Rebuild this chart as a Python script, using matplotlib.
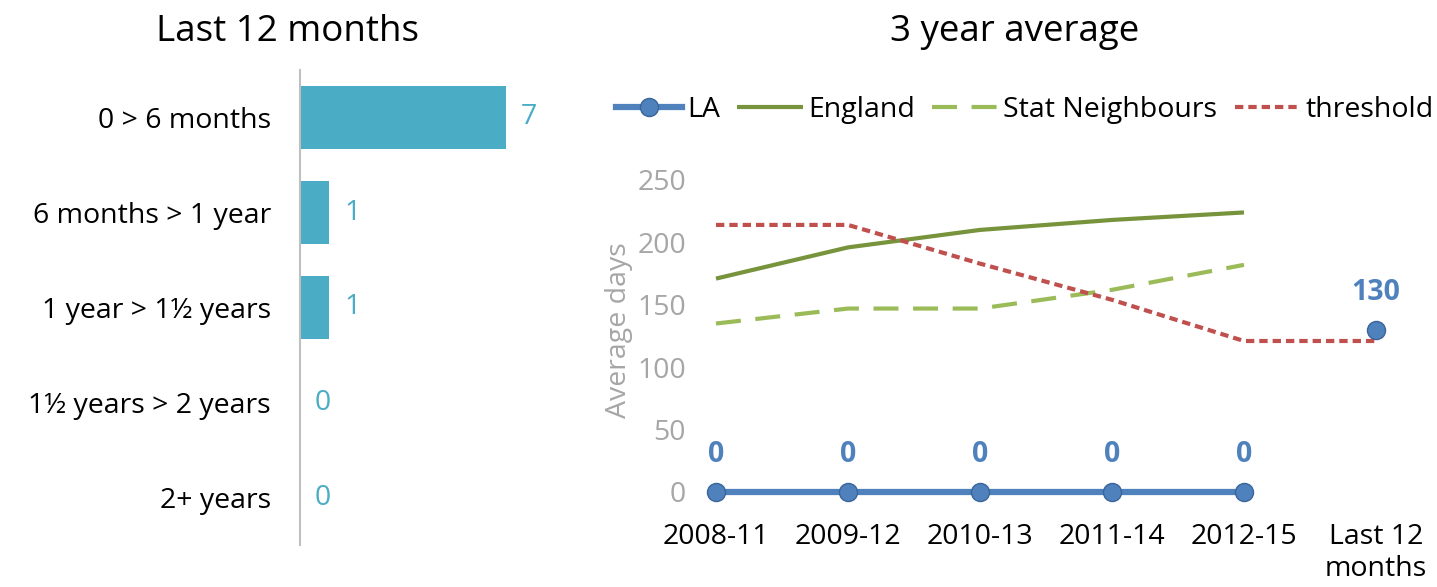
import numpy as np
import matplotlib.pyplot as plt

plt.rcParams['font.family'] = ['Open Sans', 'DejaVu Sans']

# left chart data
bands = ["0 > 6 months", "6 months > 1 year", "1 year > 1½ years", "1½ years > 2 years", "2+ years"]
counts = [7, 1, 1, 0, 0]

# right chart data
periods = ["2008-11", "2009-12", "2010-13", "2011-14", "2012-15", "Last 12\nmonths"]
la = [0, 0, 0, 0, 0, np.nan]
la_last = 130
england = [171, 196, 210, 218, 224, np.nan]
stat_neighbours = [135, 147, 147, 162, 182, np.nan]
threshold = [214, 214, 183, 154, 121, 121]

bar_col = "#4BACC6"
la_col = "#4F81BD"
eng_col = "#77933C"
sn_col = "#9BBB59"
thr_col = "#C0504D"
grey = "#A6A6A6"
fs = 20.5

fig = plt.figure(figsize=(14.37, 5.87), dpi=100)

# ---- left: horizontal bars
ax1 = fig.add_axes([300/1437, 1-545/587, 235/1437, 475/587])
y = np.arange(len(bands))
ax1.barh(y, counts, height=0.66, color=bar_col)
for yi, c in zip(y, counts):
    ax1.text(c + 0.5, yi, str(c), va="center", ha="left", color=bar_col, fontsize=fs)
ax1.set_ylim(4.5, -0.5)
ax1.set_xlim(0, 8)
ax1.set_yticks(y)
ax1.set_yticklabels(bands, fontsize=fs)
ax1.tick_params(axis="y", length=0, pad=21)
ax1.set_xticks([])
for s in ["top", "right", "bottom"]:
    ax1.spines[s].set_visible(False)
ax1.spines["left"].set_color("#BFBFBF")
ax1.spines["left"].set_linewidth(1.5)
fig.text(288/1437, 1-32/587, "Last 12 months", ha="center", va="center", fontsize=26.5)

# ---- right: lines
ax2 = fig.add_axes([650/1437, 1-492/587, 792/1437, 312/587])
x = np.arange(len(periods))
ax2.plot(x, england, color=eng_col, lw=3, label="England", solid_capstyle="butt")
ax2.plot(x, stat_neighbours, color=sn_col, lw=3, ls=(0, (6, 3.5)), label="Stat Neighbours")
ax2.plot(x, threshold, color=thr_col, lw=3, ls=(0, (2, 1.2)), label="threshold")
ax2.plot(x, la, color=la_col, lw=4.5, marker="o", ms=13, mfc=la_col, mec="#3A659A",
         label="LA", clip_on=False, zorder=5)
ax2.plot([x[-1]], [la_last], color=la_col, marker="o", ms=13, mec="#3A659A",
         ls="none", clip_on=False, zorder=5)
for xi, v in zip(x, la):
    if not np.isnan(v):
        ax2.text(xi, v + 30, str(int(v)), ha="center", va="center", color=la_col,
                 fontsize=fs, fontweight="bold")
ax2.text(x[-1], la_last + 30, str(la_last), ha="center", va="center", color=la_col,
         fontsize=fs, fontweight="bold")
ax2.set_ylim(0, 250)
ax2.set_xlim(-0.5, 5.5)
ax2.set_yticks(np.arange(0, 251, 50))
ax2.tick_params(axis="y", length=0, colors=grey, labelsize=fs, pad=-26)
ax2.set_xticks(x)
ax2.set_xticklabels(periods, fontsize=fs, linespacing=1.2)
ax2.tick_params(axis="x", length=0, pad=22)
for s in ax2.spines.values():
    s.set_visible(False)
ax2.set_ylabel("Average days", color=grey, fontsize=fs)
ax2.yaxis.set_label_coords(-0.022, 0.52)

handles, labels = ax2.get_legend_handles_labels()
order = [3, 0, 1, 2]
fig.legend([handles[i] for i in order], [labels[i] for i in order],
           loc="center", bbox_to_anchor=(1025/1437, 1-110/587), ncol=4, frameon=False,
           fontsize=fs, handlelength=2.3, handletextpad=0.2, columnspacing=0.6,
           borderpad=0, borderaxespad=0)
fig.text(1015/1437, 1-32/587, "3 year average", ha="center", va="center", fontsize=26.5)

fig.savefig("out.png", dpi=100)
